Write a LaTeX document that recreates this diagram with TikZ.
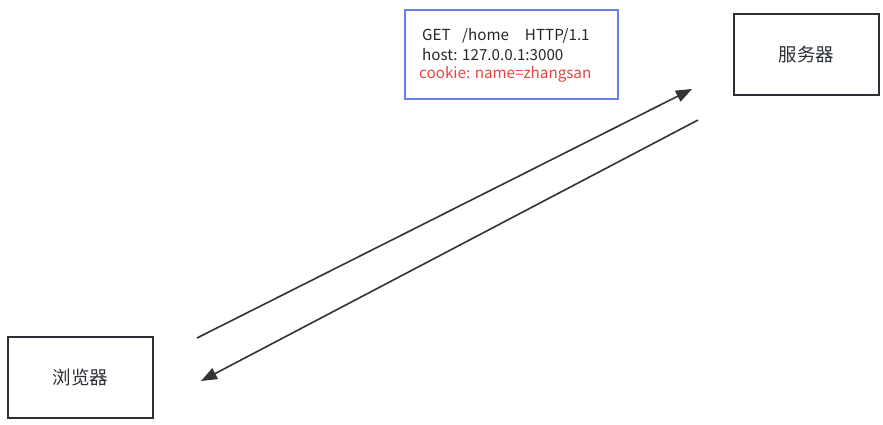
\documentclass[tikz,border=0pt]{standalone}
\usepackage{fontspec}
\setmainfont{Noto Sans CJK SC}
\usetikzlibrary{arrows.meta}
\definecolor{boxline}{HTML}{2B2F36}
\definecolor{bluebox}{HTML}{6B7FE8}
\definecolor{redtxt}{HTML}{E8443F}
\definecolor{arrowc}{HTML}{333333}
\tikzset{
  entity/.style={draw=boxline, line width=1.6pt, minimum width=145pt, minimum height=81pt, inner sep=0pt, font=\fontsize{18.5}{22}\selectfont, text=boxline},
  msg/.style={draw=bluebox, line width=1.6pt, minimum width=213pt, minimum height=89pt, inner sep=0pt},
  msgtext/.style={anchor=west, inner sep=0pt, font=\fontsize{15.2}{18}\selectfont},
  flow/.style={draw=arrowc, line width=1.6pt, -{Triangle[length=16pt,width=12pt]}},
}
\begin{document}
\begin{tikzpicture}[x=1pt,y=-1pt]
\useasboundingbox (0,0) rectangle (883,424);
\node[entity] (browser) at (80.5,377.5) {浏览器};
\node[entity] (server) at (806.5,54.5) {服务器};
\node[msg] (req) at (511.5,54.5) {};
\node[msgtext, text=black!85] (l1) at (422,36) {GET\hspace{0.75em}/home\hspace{1.05em}HTTP/1.1};
\node[msgtext, text=black!85] (l2) at (422,55) {host: 127.0.0.1:3000};
\node[msgtext, text=redtxt] (l3) at (419,74) {cookie: name=zhangsan};
\coordinate (a1s) at (197,338);
\coordinate (a1e) at (692,89);
\coordinate (a2s) at (698,120);
\coordinate (a2e) at (201,381);
\draw[flow] (a1s) -- (a1e);
\draw[flow] (a2s) -- (a2e);
\end{tikzpicture}
\end{document}
